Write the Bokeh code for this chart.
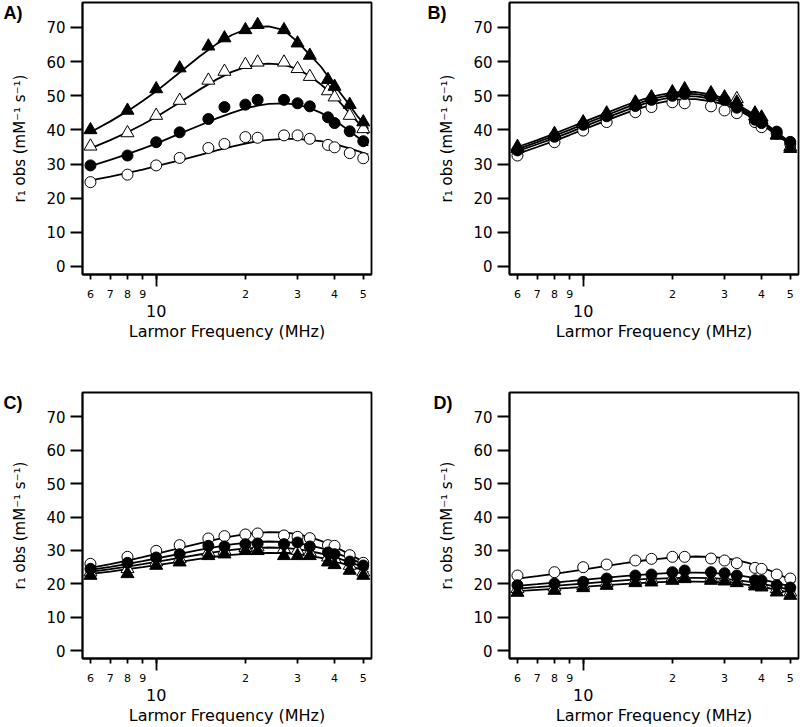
from bokeh.plotting import figure
from bokeh.models import FixedTicker, LogAxis
from bokeh.layouts import row, column
from bokeh.embed import file_html
from bokeh.resources import INLINE

# Larmor frequencies (MHz) of the measured points
freqs = [6, 8, 10, 12, 15, 17, 20, 22, 27, 30, 33, 38, 40, 45, 50]
fit_freqs = [6, 7, 8, 9, 10, 12, 14, 16, 18, 20, 22, 24, 27, 30, 33, 36, 40, 44, 48, 52]

x_ticks = [6, 7, 8, 9, 10, 20, 30, 40, 50]
x_tick_labels = ["6", "7", "8", "9", "", "2", "3", "4", "5"]
y_ticks = [0, 10, 20, 30, 40, 50, 60, 70]

# ---- Panel A ----
a_open_circ = [24.7, 26.9, 29.6, 31.8, 34.7, 35.9, 37.9, 37.7, 38.4, 38.4, 37.4, 35.6, 34.9, 33.2, 31.7]
a_fill_circ = [29.6, 32.5, 36.4, 39.3, 43.2, 46.7, 47.4, 48.8, 48.8, 47.8, 46.9, 43.7, 42.0, 39.6, 36.7]
a_open_tri = [35.2, 39.1, 44.2, 48.6, 54.5, 57.1, 59.1, 59.8, 59.8, 57.9, 55.6, 51.4, 49.6, 44.2, 40.3]
a_fill_tri = [40.0, 45.7, 52.0, 58.1, 64.5, 66.9, 69.3, 70.8, 69.3, 65.4, 61.8, 54.7, 52.7, 47.4, 42.3]
a_fit_open_circ = [25.2, 26.3, 27.4, 28.4, 29.4, 31.1, 32.6, 34.0, 35.1, 36.0, 36.7, 37.1, 37.4, 37.4, 37.0, 36.7, 35.9, 34.8, 33.8, 32.8]
a_fit_fill_circ = [29.4, 31.2, 32.9, 34.5, 36.0, 38.9, 41.3, 43.4, 45.0, 46.3, 47.1, 47.6, 47.8, 47.4, 46.4, 45.0, 42.8, 40.3, 37.8, 35.4]
a_fit_open_tri = [34.6, 37.0, 39.3, 41.6, 43.8, 48.0, 51.8, 54.8, 57.0, 58.4, 59.2, 59.4, 59.1, 57.8, 55.8, 53.3, 49.8, 45.8, 42.2, 38.8]
a_fit_fill_tri = [39.3, 42.5, 45.5, 48.5, 51.3, 56.8, 61.5, 65.2, 67.8, 69.4, 70.2, 70.3, 69.2, 65.8, 62.0, 58.5, 53.0, 48.3, 43.8, 40.3]

# ---- Panel B ----
b_open_circ = [32.5, 36.4, 39.8, 42.3, 45.2, 46.7, 48.1, 47.8, 46.9, 45.7, 44.9, 42.3, 40.8, 38.9, 35.9]
b_fill_circ = [34.0, 38.0, 41.5, 44.0, 47.0, 48.8, 50.0, 50.5, 49.8, 48.8, 46.5, 43.0, 42.0, 39.5, 36.5]
b_open_tri = [34.5, 38.3, 41.8, 44.5, 47.8, 49.5, 50.8, 51.5, 50.5, 49.0, 49.1, 44.0, 43.0, 38.5, 35.0]
b_fill_tri = [35.1, 38.9, 42.3, 44.9, 48.1, 49.6, 51.1, 52.0, 50.8, 49.6, 48.1, 44.9, 43.7, 38.4, 34.5]
b_fit_open_circ = [33.0, 35.0, 36.8, 38.5, 40.1, 42.8, 45.0, 46.7, 47.9, 48.7, 49.0, 49.0, 48.4, 47.4, 46.0, 44.2, 41.6, 39.1, 36.8, 34.6]
b_fit_fill_circ = [33.8, 35.8, 37.6, 39.3, 40.9, 43.6, 45.8, 47.6, 48.8, 49.6, 49.9, 49.8, 49.2, 48.1, 46.5, 44.7, 42.0, 39.4, 37.0, 34.8]
b_fit_open_tri = [34.4, 36.4, 38.3, 40.0, 41.6, 44.3, 46.6, 48.3, 49.5, 50.3, 50.6, 50.5, 49.8, 48.7, 47.0, 45.1, 42.4, 39.7, 37.2, 35.0]
b_fit_fill_tri = [35.0, 37.0, 38.9, 40.7, 42.3, 45.0, 47.3, 49.0, 50.2, 50.9, 51.2, 51.1, 50.4, 49.2, 47.5, 45.6, 42.8, 40.0, 37.5, 35.2]

# ---- Panel C ----
c_open_circ = [26.0, 28.1, 29.9, 31.6, 33.6, 34.3, 34.8, 35.1, 34.5, 34.1, 33.7, 31.6, 31.4, 28.6, 26.3]
c_fill_circ = [24.5, 26.3, 27.9, 28.9, 31.4, 31.2, 31.9, 32.1, 31.9, 32.4, 31.2, 29.4, 28.9, 26.7, 25.5]
c_open_tri = [23.5, 24.5, 26.5, 27.5, 29.5, 30.0, 30.8, 31.0, 30.5, 30.0, 29.5, 28.0, 27.5, 25.5, 23.5]
c_fill_tri = [22.5, 23.0, 25.5, 26.5, 28.4, 28.9, 29.9, 29.9, 28.4, 28.4, 28.4, 26.5, 25.7, 24.0, 22.5]
c_fit_open_circ = [24.8, 25.9, 27.0, 28.0, 29.0, 30.7, 32.1, 33.3, 34.2, 34.9, 35.3, 35.5, 35.4, 34.9, 34.0, 32.9, 31.2, 29.3, 27.5, 25.8]
c_fit_fill_circ = [24.2, 25.1, 26.0, 26.8, 27.6, 29.0, 30.2, 31.1, 31.8, 32.3, 32.6, 32.7, 32.6, 32.2, 31.5, 30.7, 29.4, 28.0, 26.6, 25.2]
c_fit_open_tri = [23.6, 24.4, 25.2, 25.9, 26.6, 27.8, 28.8, 29.6, 30.2, 30.6, 30.8, 30.9, 30.8, 30.4, 29.8, 29.1, 28.0, 26.8, 25.6, 24.4]
c_fit_fill_tri = [23.0, 23.7, 24.4, 25.0, 25.6, 26.6, 27.5, 28.2, 28.7, 29.0, 29.2, 29.3, 29.2, 28.9, 28.4, 27.8, 26.8, 25.7, 24.6, 23.5]

# ---- Panel D ----
d_open_circ = [22.5, 23.5, 25.0, 25.8, 27.0, 27.5, 28.1, 28.1, 27.6, 27.0, 26.2, 24.8, 24.5, 22.8, 21.6]
d_fill_circ = [19.6, 20.1, 20.6, 21.6, 22.5, 22.8, 23.5, 24.0, 23.5, 23.2, 22.5, 21.1, 21.0, 19.6, 18.9]
d_open_tri = [18.5, 19.0, 19.5, 20.3, 21.0, 21.3, 21.8, 22.0, 21.8, 21.5, 21.0, 20.0, 19.8, 18.5, 17.5]
d_fill_tri = [17.4, 18.0, 18.8, 19.5, 20.3, 20.5, 21.0, 21.5, 21.0, 20.8, 20.3, 19.3, 19.0, 17.5, 16.5]
d_fit_open_circ = [21.6, 22.3, 23.0, 23.7, 24.3, 25.4, 26.3, 27.0, 27.5, 27.9, 28.1, 28.2, 28.1, 27.7, 27.1, 26.3, 25.0, 23.5, 22.0, 20.6]
d_fit_fill_circ = [19.4, 19.9, 20.4, 20.8, 21.2, 21.9, 22.4, 22.8, 23.1, 23.3, 23.4, 23.4, 23.3, 23.0, 22.6, 22.1, 21.3, 20.5, 19.6, 18.7]
d_fit_open_tri = [18.6, 19.0, 19.4, 19.8, 20.1, 20.7, 21.1, 21.4, 21.6, 21.7, 21.8, 21.8, 21.7, 21.5, 21.1, 20.7, 20.0, 19.3, 18.6, 17.8]
d_fit_fill_tri = [17.8, 18.2, 18.5, 18.8, 19.1, 19.6, 20.0, 20.3, 20.5, 20.6, 20.7, 20.7, 20.6, 20.4, 20.1, 19.7, 19.1, 18.4, 17.7, 17.0]

FONT = "DejaVu Sans"
LW = 1.8


def make_panel(letter, pts, fits, width, height, mbl, mbr, mbt, mbb, letter_offset):
    p = figure(width=width, height=height, x_axis_type="log",
               x_range=(5.64, 53.3), y_range=(-2.35, 77.32),
               output_backend="svg", toolbar_location=None,
               min_border_left=mbl, min_border_right=mbr,
               min_border_top=mbt, min_border_bottom=mbb)
    p.grid.visible = False
    p.outline_line_color = "black"
    p.outline_line_width = LW
    p.outline_line_alpha = 1.0

    # panel letter as the figure title, pulled left of the frame
    p.title.text = letter
    p.title.align = "left"
    p.title.offset = letter_offset
    p.title.vertical_align = "bottom"
    p.title.standoff = -40
    p.title.text_font = "Liberation Sans"
    p.title.text_font_style = "bold"
    p.title.text_font_size = "18px"
    p.title.text_color = "black"

    # fitted curves
    for f in fits:
        p.line(fit_freqs, f, line_color="black", line_width=LW)

    o_circ, f_circ, o_tri, f_tri = pts
    p.scatter(freqs, o_circ, marker="circle", size=11, fill_color="white",
              line_color="black", line_width=1)
    p.scatter(freqs, o_tri, marker="triangle", size=13, fill_color="white",
              line_color="black", line_width=1)
    p.scatter(freqs, f_circ, marker="circle", size=11, fill_color="black",
              line_color="black", line_width=1)
    p.scatter(freqs, f_tri, marker="triangle", size=13, fill_color="black",
              line_color="black", line_width=1)

    # x axis (log): small mantissa labels, long tick at the decade
    xa = p.xaxis[0]
    xa.ticker = FixedTicker(ticks=x_ticks, minor_ticks=[10])
    xa.major_label_overrides = {t: l for t, l in zip(x_ticks, x_tick_labels)}
    xa.major_tick_in = 0
    xa.major_tick_out = 5
    xa.minor_tick_in = 0
    xa.minor_tick_out = 12
    xa.major_tick_line_width = LW
    xa.minor_tick_line_width = LW
    xa.minor_tick_line_color = "black"
    xa.major_tick_line_color = "black"
    xa.axis_line_width = LW
    xa.axis_line_color = "black"
    xa.major_label_text_font = FONT
    xa.major_label_text_font_size = "11px"
    xa.major_label_text_color = "black"
    xa.major_label_standoff = 3

    # second axis below carrying the decade label "10" and the axis title
    xa2 = LogAxis(ticker=FixedTicker(ticks=[10], minor_ticks=[]))
    xa2.major_label_overrides = {10: "10"}
    xa2.axis_line_color = None
    xa2.major_tick_line_color = None
    xa2.minor_tick_line_color = None
    xa2.major_tick_in = 0
    xa2.major_tick_out = 0
    xa2.major_label_standoff = 4
    xa2.major_label_text_font = FONT
    xa2.major_label_text_font_size = "16px"
    xa2.major_label_text_color = "black"
    xa2.axis_label = "Larmor Frequency (MHz)"
    xa2.axis_label_text_font = FONT
    xa2.axis_label_text_font_size = "16px"
    xa2.axis_label_text_font_style = "normal"
    xa2.axis_label_text_color = "black"
    xa2.axis_label_standoff = 2
    p.add_layout(xa2, "below")

    # y axis
    ya = p.yaxis[0]
    ya.ticker = FixedTicker(ticks=y_ticks)
    ya.minor_tick_line_color = None
    ya.major_tick_in = 0
    ya.major_tick_out = 12
    ya.major_tick_line_width = LW
    ya.major_tick_line_color = "black"
    ya.axis_line_width = LW
    ya.axis_line_color = "black"
    ya.major_label_text_font = FONT
    ya.major_label_text_font_size = "15px"
    ya.major_label_text_color = "black"
    ya.major_label_standoff = 5
    ya.axis_label = "r\u2081 obs (mM\u207b\u00b9 s\u207b\u00b9)"
    ya.axis_label_text_font = FONT
    ya.axis_label_text_font_size = "15px"
    ya.axis_label_text_font_style = "normal"
    ya.axis_label_text_color = "black"
    ya.axis_label_standoff = 14
    return p


pA = make_panel("A)", (a_open_circ, a_fill_circ, a_open_tri, a_fill_tri),
                (a_fit_open_circ, a_fit_fill_circ, a_fit_open_tri, a_fit_fill_tri),
                width=400, height=360, mbl=82, mbr=29, mbt=2, mbb=86,
                letter_offset=-79)
pB = make_panel("B)", (b_open_circ, b_fill_circ, b_open_tri, b_fill_tri),
                (b_fit_open_circ, b_fit_fill_circ, b_fit_open_tri, b_fit_fill_tri),
                width=400, height=360, mbl=109, mbr=2, mbt=2, mbb=86,
                letter_offset=-82)
pC = make_panel("C)", (c_open_circ, c_fill_circ, c_open_tri, c_fill_tri),
                (c_fit_open_circ, c_fit_fill_circ, c_fit_open_tri, c_fit_fill_tri),
                width=400, height=367, mbl=82, mbr=29, mbt=32, mbb=63,
                letter_offset=-79)
pD = make_panel("D)", (d_open_circ, d_fill_circ, d_open_tri, d_fill_tri),
                (d_fit_open_circ, d_fit_fill_circ, d_fit_open_tri, d_fit_fill_tri),
                width=400, height=367, mbl=109, mbr=2, mbt=32, mbb=63,
                letter_offset=-76)

layout = column(row(pA, pB), row(pC, pD))

open("out.html", "w").write(file_html(layout, INLINE))
